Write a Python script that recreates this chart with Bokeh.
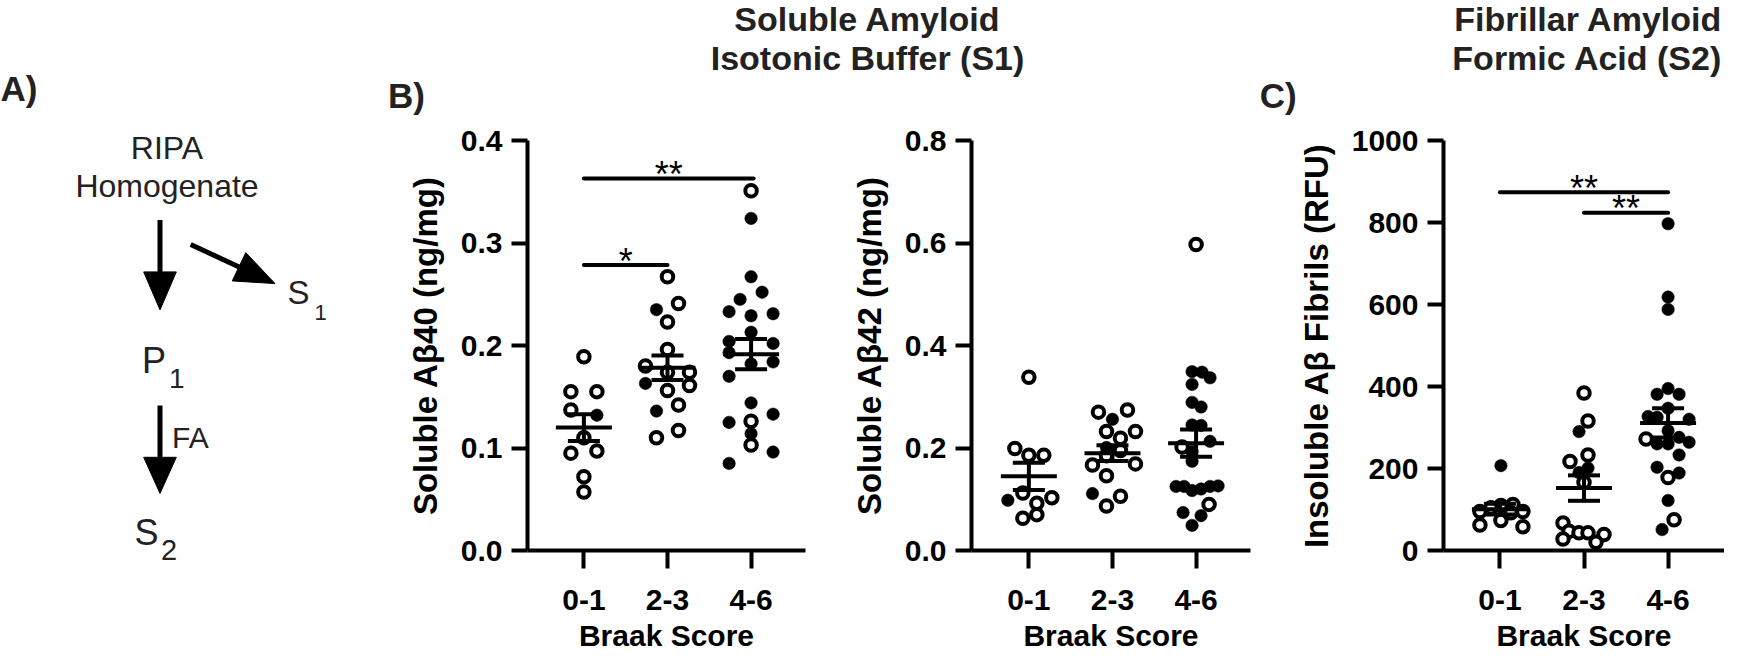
import numpy as np
from bokeh.plotting import figure
from bokeh.models import Range1d, FixedTicker, PrintfTickFormatter
from bokeh.layouts import row, column
from bokeh.embed import file_html
from bokeh.resources import INLINE
from bokeh.core.properties import value

FONT = "Liberation Sans"
DARK = "#222222"

# ---------------- data ----------------
categories = ["0-1", "2-3", "4-6"]
x_title = "Braak Score"

# Soluble Abeta40 (ng/mg): values, filled flag (1 = filled dot), swarm offsets (px)
ab40_g01 = [0.189, 0.155, 0.155, 0.137, 0.132, 0.110, 0.095, 0.097, 0.072, 0.057]
ab40_f01 = [0, 0, 0, 0, 1, 0, 0, 0, 0, 0]
ab40_o01 = [0, -13, 13, -13, 13, 0, -13, 13, 0, 0]
ab40_g23 = [0.267, 0.241, 0.235, 0.223, 0.196, 0.180, 0.174, 0.174, 0.163, 0.161,
            0.156, 0.142, 0.136, 0.117, 0.110]
ab40_f23 = [0, 0, 1, 0, 0, 0, 0, 0, 1, 0, 0, 0, 1, 0, 0]
ab40_o23 = [0, 11, -11, 0, 0, -22, 0, 22, -22, 22, 0, 11, -11, 11, -11]
ab40_g46 = [0.351, 0.324, 0.267, 0.252, 0.245, 0.233, 0.229, 0.231, 0.213, 0.204,
            0.193, 0.202, 0.184, 0.182, 0.170, 0.144, 0.133, 0.125, 0.126, 0.114,
            0.103, 0.096, 0.085]
ab40_f46 = [0, 1, 1, 1, 1, 1, 1, 1, 1, 1, 1, 1, 1, 1, 1, 1, 1, 1, 0, 1, 0, 1, 1]
ab40_o46 = [0, 0, 0, 11, -11, -22, 0, 22, 0, -22, -22, 22, 22, 0, -22, 0, 22, -22,
            0, 0, 0, 22, -22]
ab40_ticks = [0.0, 0.1, 0.2, 0.3, 0.4]
ab40_sig_y = [0.363, 0.2785]
ab40_sig_from = [0, 0]
ab40_sig_to = [2.03, 1.0]
ab40_sig_text = ["**", "*"]

# Soluble Abeta42 (ng/mg)
ab42_g01 = [0.338, 0.199, 0.186, 0.186, 0.098, 0.112, 0.092, 0.103, 0.070, 0.063]
ab42_f01 = [0, 0, 0, 0, 1, 0, 0, 0, 0, 0]
ab42_o01 = [0, -14, 0, 15, -21, -6, 8, 23, 8, -6]
ab42_g23 = [0.274, 0.270, 0.256, 0.232, 0.232, 0.219, 0.201, 0.195, 0.185, 0.167,
            0.169, 0.146, 0.111, 0.106, 0.087]
ab42_f23 = [0, 0, 1, 0, 0, 0, 1, 0, 0, 0, 0, 0, 1, 0, 0]
ab42_o23 = [15, -14, 0, -6, 23, 8, -6, 8, -6, -20, 23, -6, -20, 8, -6]
ab42_g46 = [0.597, 0.349, 0.348, 0.337, 0.324, 0.289, 0.280, 0.245, 0.244, 0.213,
            0.202, 0.193, 0.174, 0.125, 0.125, 0.117, 0.120, 0.125, 0.126, 0.090,
            0.074, 0.068, 0.049]
ab42_f46 = [0, 1, 1, 1, 1, 1, 1, 1, 1, 1, 0, 1, 1, 1, 1, 1, 1, 1, 1, 0, 1, 1, 1]
ab42_o46 = [0, -4, 6, 14, -4, -4, 5, -4, 5, 14, -14, -4, -4, -20, -12, -4, 5, 14,
            22, 13, -13, 5, -4]
ab42_ticks = [0.0, 0.2, 0.4, 0.6, 0.8]

# Insoluble Abeta fibrils (RFU)
fib_g01 = [207, 112, 110, 104, 95, 95, 92, 73, 62, 58]
fib_f01 = [1, 0, 0, 0, 0, 0, 0, 0, 0, 0]
fib_o01 = [1, 13, 1, -9, -20, 23, 11, 1, -20, 23]
fib_g23 = [384, 316, 290, 233, 217, 201, 190, 166, 67, 47, 43, 43, 39, 28, 20]
fib_f23 = [0, 0, 1, 0, 0, 1, 1, 0, 0, 0, 0, 0, 0, 0, 0]
fib_o23 = [0, 4, -5, 4, -14, 4, -5, 0, -21, -15, -5, 4, 20, -21, 12]
fib_g46 = [797, 618, 588, 395, 381, 381, 347, 327, 325, 320, 292, 272, 260, 260,
           276, 264, 233, 203, 189, 178, 122, 75, 51]
fib_f46 = [1, 1, 1, 1, 1, 1, 1, 1, 1, 1, 1, 0, 1, 1, 1, 1, 1, 1, 1, 0, 1, 0, 1]
fib_o46 = [0, 0, 0, 0, -11, 11, 0, -20, -11, 21, 0, -22, -11, 0, 11, 21, 11, -11,
           11, 0, 0, 6, -6]
fib_ticks = [0, 200, 400, 600, 800, 1000]
fib_sig_y = [874, 824]
fib_sig_from = [0, 1]
fib_sig_to = [2, 2]
fib_sig_text = ["**", "**"]

# ---------------- helpers ----------------
HEAD_H = 116
LOW_H = 538


def style_axes(p, y_title, yticks, yfmt):
    p.grid.visible = False
    p.outline_line_color = None
    p.background_fill_color = "white"
    p.border_fill_color = "white"
    xa, ya = p.xaxis[0], p.yaxis[0]
    xa.ticker = FixedTicker(ticks=[0, 1, 2])
    xa.major_label_overrides = {i: c for i, c in enumerate(categories)}
    xa.axis_label = x_title
    ya.ticker = FixedTicker(ticks=yticks)
    if yfmt:
        ya.formatter = PrintfTickFormatter(format=yfmt)
    ya.axis_label = y_title
    for ax in (xa, ya):
        ax.axis_line_width = 4
        ax.axis_line_color = "black"
        ax.major_tick_line_width = 4
        ax.major_tick_line_color = "black"
        ax.major_tick_in = 0
        ax.minor_tick_in = 0
        ax.minor_tick_out = 0
        ax.major_label_text_font = FONT
        ax.major_label_text_font_style = "bold"
        ax.major_label_text_font_size = "30px"
        ax.major_label_text_color = "black"
        ax.axis_label_text_font = FONT
        ax.axis_label_text_font_style = "bold"
        ax.axis_label_text_color = "black"
    xa.major_tick_out = 18
    xa.major_label_standoff = 21
    xa.axis_label_standoff = 6
    xa.axis_label_text_font_size = "30px"
    ya.major_tick_out = 16
    ya.major_label_standoff = 9
    ya.axis_label_standoff = 14
    ya.axis_label_text_font_size = "33px"


def panel(width, bl, br, x_lo, x_hi, y_hi, yticks, yfmt, y_title,
          groups, fills, offs, sig=None):
    p = figure(width=width, height=LOW_H, title=None,
               x_range=Range1d(x_lo, x_hi),
               y_range=Range1d(-y_hi * 1e-9, y_hi * (1 + 1e-9)),
               output_backend="svg", toolbar_location=None,
               min_border_left=bl, min_border_right=br,
               min_border_top=24, min_border_bottom=102)
    style_axes(p, y_title, yticks, yfmt)
    ppu = (width - bl - br) / (x_hi - x_lo)
    for i, (g, f, o) in enumerate(zip(groups, fills, offs)):
        xs = [i + oo / ppu for oo in o]
        xo = [x for x, ff in zip(xs, f) if not ff]
        yo = [v for v, ff in zip(g, f) if not ff]
        xf = [x for x, ff in zip(xs, f) if ff]
        yf = [v for v, ff in zip(g, f) if ff]
        p.scatter(xf, yf, marker="circle", size=12.5, fill_color="black",
                  line_color="black", line_width=0.5)
        p.scatter(xo, yo, marker="circle", size=11.5, fill_color="white",
                  line_color="black", line_width=4)
    # mean +/- SEM
    means = [float(np.mean(g)) for g in groups]
    sems = [float(np.std(g, ddof=1) / np.sqrt(len(g))) for g in groups]
    idx = list(range(len(groups)))
    mw = 28 / ppu
    cw = 16 / ppu
    p.segment(x0=[i - mw for i in idx], y0=means, x1=[i + mw for i in idx], y1=means,
              line_color="black", line_width=4)
    p.segment(x0=idx, y0=[m - s for m, s in zip(means, sems)],
              x1=idx, y1=[m + s for m, s in zip(means, sems)],
              line_color="black", line_width=4)
    for sgn in (-1, 1):
        yy = [m + sgn * s for m, s in zip(means, sems)]
        p.segment(x0=[i - cw for i in idx], y0=yy, x1=[i + cw for i in idx], y1=yy,
                  line_color="black", line_width=4)
    if sig:
        sy, s0, s1, st = sig
        p.segment(x0=s0, y0=sy, x1=s1, y1=sy, line_color="black", line_width=4,
                  line_cap="round")
        p.text(x=[(a + b) / 2 for a, b in zip(s0, s1)], y=sy, text=st,
               text_font=value(FONT), text_font_size="36px", text_color="black",
               text_align="center", text_baseline="alphabetic", y_offset=-4)
    return p


def atext(p, x, y, t, size, bold=False, align="left", color=DARK):
    # y is the vertical centre of the capitals
    p.text(x=[x], y=[y], text=[t], text_font=value(FONT), text_font_size=size,
           text_font_style="bold" if bold else "normal", text_color=color,
           text_align=align, text_baseline="middle")


def blank(width, height):
    f = figure(width=width, height=height, title=None, x_range=Range1d(0, width),
               y_range=Range1d(height, 0), x_axis_type=None, y_axis_type=None,
               output_backend="svg", toolbar_location=None, min_border=0)
    f.grid.visible = False
    f.outline_line_color = None
    f.background_fill_color = "white"
    f.border_fill_color = "white"
    return f


# ---------------- panel A (diagram) ----------------
A_W, A_H = 375, 654
figA = blank(A_W, A_H)
atext(figA, 0, 88, "A)", "35px", bold=True)
atext(figA, 166.5, 147, "RIPA", "32px", align="center")
atext(figA, 166.5, 185.5, "Homogenate", "32px", align="center")
atext(figA, 287, 292, "S", "33px")
atext(figA, 314, 312, "1", "22px")
atext(figA, 141.5, 360, "P", "36px")
atext(figA, 168.5, 378, "1", "28px")
atext(figA, 171.5, 437, "FA", "30px")
atext(figA, 134, 532, "S", "36px")
atext(figA, 160.5, 549, "2", "29px")

shaft_x0 = [159.5, 190.2, 159.5]
shaft_y0 = [219.6, 244.0, 405.1]
shaft_x1 = [159.5, 240.8, 159.5]
shaft_y1 = [276.0, 267.5, 461.0]
figA.segment(x0=shaft_x0, y0=shaft_y0, x1=shaft_x1, y1=shaft_y1,
             line_color="black", line_width=5)
head_xs = [[143.2, 175.8, 159.5], [245.3, 231.8, 274.5], [143.2, 175.8, 159.5]]
head_ys = [[271.4, 271.4, 309.4], [252.1, 280.4, 283.1], [456.8, 456.8, 492.9]]
figA.patches(head_xs, head_ys, fill_color="black", line_color="black", line_width=1)

# ---------------- header (titles / panel letters) ----------------
H_W = 1349
head = blank(H_W, HEAD_H)
atext(head, 492, 18, "Soluble Amyloid", "34px", bold=True, align="center")
atext(head, 492, 57, "Isotonic Buffer (S1)", "34px", bold=True, align="center")
atext(head, 1347, 18, "Fibrillar Amyloid", "34px", bold=True, align="right")
atext(head, 1347, 57, "Formic Acid (S2)", "34px", bold=True, align="right")
atext(head, 12.4, 95.2, "B)", "35px", bold=True)
atext(head, 884.3, 95.2, "C)", "35px", bold=True)

# ---------------- data panels ----------------
pB1 = panel(457, 152, 27, -0.6746, 2.651, 0.4, ab40_ticks, "%.1f",
            "Soluble A\u03b240 (ng/mg)",
            [ab40_g01, ab40_g23, ab40_g46], [ab40_f01, ab40_f23, ab40_f46],
            [ab40_o01, ab40_o23, ab40_o46],
            sig=(ab40_sig_y, ab40_sig_from, ab40_sig_to, ab40_sig_text))
pB2 = panel(446, 139, 28, -0.686, 2.651, 0.8, ab42_ticks, "%.1f",
            "Soluble A\u03b242 (ng/mg)",
            [ab42_g01, ab42_g23, ab42_g46], [ab42_f01, ab42_f23, ab42_f46],
            [ab42_o01, ab42_o23, ab42_o46])
pC = panel(446, 165, 0, -0.671, 2.671, 1000, fib_ticks, None,
           "Insoluble A\u03b2 Fibrils (RFU)",
           [fib_g01, fib_g23, fib_g46], [fib_f01, fib_f23, fib_f46],
           [fib_o01, fib_o23, fib_o46],
           sig=(fib_sig_y, fib_sig_from, fib_sig_to, fib_sig_text))

layout = row(figA, column(head, row(pB1, pB2, pC)))
open("out.html", "w").write(file_html(layout, INLINE))
